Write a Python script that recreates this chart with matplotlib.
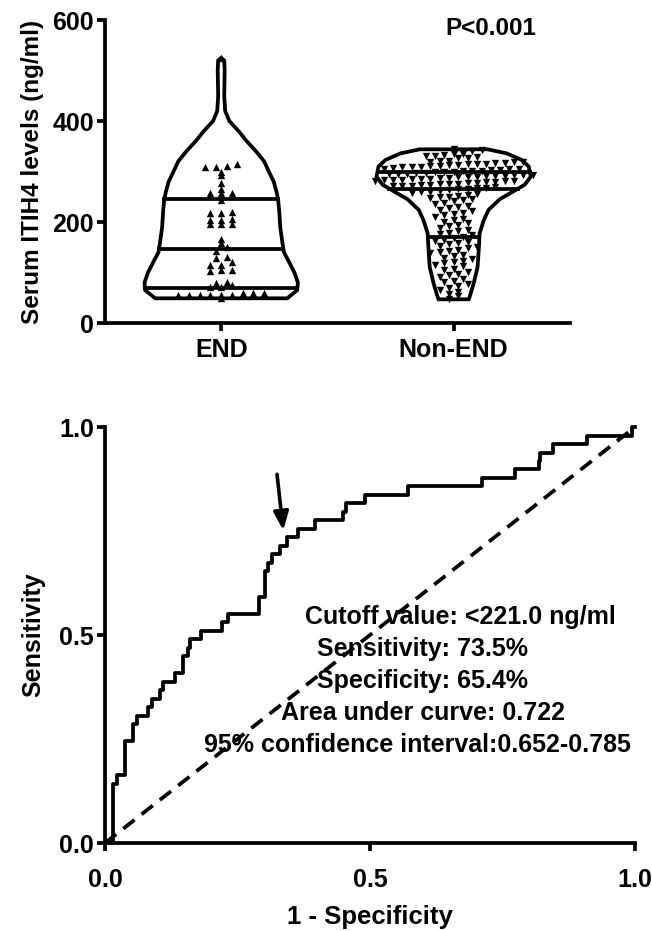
import numpy as np
import matplotlib
matplotlib.use("Agg")
import matplotlib.pyplot as plt

plt.rcParams['font.family'] = ['Liberation Sans', 'DejaVu Sans']
plt.rcParams['font.weight'] = 'bold'

# ---- violin data (ng/ml) ----
groups = ["END", "Non-END"]
end_vals = [525, 315, 310, 308, 308, 300, 294, 277, 265, 257, 257, 257, 244,
            220, 217, 217, 207, 204, 204, 197, 197, 197, 166, 159, 150, 143,
            131, 128, 121, 115, 115, 105, 105, 104, 82, 79, 75, 71, 71,
            60, 60, 60, 55, 55, 55, 55, 55, 55, 49]
non_vals = [345, 342, 340,
            335, 334, 332, 331, 330, 328, 327, 326,
            320, 320, 319, 318, 318, 317, 316, 315, 314, 314, 313, 312, 311, 310,
            309, 308, 308, 307, 306, 305, 305, 304, 303, 302, 302, 301, 300, 300,
            299, 298, 297, 296, 296, 295, 294, 294, 293, 292, 292, 291, 290, 290,
            289, 288, 287, 286, 286, 285, 284, 283, 283, 282, 281, 281, 280,
            279, 278, 277, 276, 275, 275, 274, 273, 272, 272, 271, 270,
            268, 267, 266, 265, 263, 262, 260, 259, 258, 256,
            254, 252, 250, 249, 247, 245, 243, 241,
            238, 235, 232, 230, 227, 224, 221,
            218, 216, 213, 210, 207, 204, 201,
            198, 195, 192, 188, 185, 182,
            178, 176, 174, 171, 168, 165, 163, 161,
            158, 156, 153, 150, 148, 145, 143, 141,
            138, 135, 132, 129, 126, 123, 121,
            118, 115, 112, 108, 105, 102,
            98, 95, 92, 88, 84, 81,
            78, 74, 70, 66, 62,
            58, 53, 48]

# violin outline: level and half width (x units)
end_lvl = [525, 520, 500, 450, 420, 400, 380, 360, 340, 320, 300, 280, 260,
           244, 220, 190, 160, 140, 120, 100, 80, 65, 55, 49]
end_hw = [0.0, 0.013, 0.015, 0.013, 0.017, 0.035, 0.075, 0.11, 0.15, 0.185,
          0.205, 0.226, 0.238, 0.245, 0.25, 0.254, 0.263, 0.27, 0.293, 0.315,
          0.33, 0.327, 0.30, 0.284]
non_lvl = [344, 336, 323, 310, 290, 274, 261, 245, 224, 204, 178, 145, 111, 78, 52, 47]
non_hw = [0.146, 0.228, 0.293, 0.323, 0.332, 0.306, 0.258, 0.198, 0.15, 0.13,
          0.112, 0.108, 0.103, 0.086, 0.069, 0.065]

# quartile lines (Q1, median, Q3)
end_quart = [69, 146, 246]
non_quart = [170, 266, 300]

# ---- ROC corners ----
roc_fpr = [0, 0.016, 0.016, 0.022, 0.022, 0.038, 0.038, 0.053, 0.053, 0.060, 0.060,
           0.082, 0.082, 0.088, 0.088, 0.104, 0.104, 0.110, 0.110, 0.132, 0.132,
           0.148, 0.148, 0.157, 0.157, 0.160, 0.160, 0.182, 0.182, 0.220, 0.220,
           0.233, 0.233, 0.291, 0.291, 0.302, 0.302, 0.308, 0.308, 0.315, 0.315,
           0.330, 0.330, 0.344, 0.344, 0.365, 0.365, 0.396, 0.396, 0.450, 0.450,
           0.455, 0.455, 0.491, 0.491, 0.572, 0.572, 0.711, 0.711, 0.774, 0.774,
           0.818, 0.818, 0.821, 0.821, 0.846, 0.846, 0.909, 0.909, 0.995, 0.995, 1.0]
roc_k = [0, 0, 7, 7, 8, 8, 12, 12, 14, 14, 15,
         15, 16, 16, 17, 17, 18, 18, 19, 19, 20,
         20, 22, 22, 23, 23, 24, 24, 25, 25, 26,
         26, 27, 27, 29, 29, 32, 32, 33, 33, 34,
         34, 35, 35, 36, 36, 37, 37, 38, 38, 39,
         39, 40, 40, 41, 41, 42, 42, 43, 43, 44,
         44, 45, 45, 46, 46, 47, 47, 48, 48, 49, 49]
n_end = 49
roc_tpr = [k / n_end for k in roc_k]

notes = ["Cutoff value: <221.0 ng/ml", "Sensitivity: 73.5%", "Specificity: 65.4%",
         "Area under curve: 0.722", "95% confidence interval:0.652-0.785"]

LW = 2.7
FS = 18


def swarm(vals, center, binh, dx):
    vals = np.sort(np.asarray(vals, float))
    bins = np.round(vals / binh)
    xs = np.zeros_like(vals)
    for b in np.unique(bins):
        idx = np.where(bins == b)[0]
        n = len(idx)
        xs[idx] = center + (np.arange(n) - (n - 1) / 2) * dx
    return xs, vals


def style(ax):
    for s in ['top', 'right']:
        ax.spines[s].set_visible(False)
    for s in ['left', 'bottom']:
        ax.spines[s].set_linewidth(LW)
    ax.tick_params(direction='out', length=6, width=LW, labelsize=FS, pad=2)
    for lab in ax.get_xticklabels() + ax.get_yticklabels():
        lab.set_fontweight('bold')


fig = plt.figure(figsize=(6.52, 9.31), dpi=100)

# ---- violin panel ----
ax1 = fig.add_axes([0.161, 0.653, 0.713, 0.3255])
for i, (lvl, hw, q, vals, mk, bh, dx) in enumerate([
        (end_lvl, end_hw, end_quart, end_vals, '^', 12, 0.046),
        (non_lvl, non_hw, non_quart, non_vals, 'v', 12, 0.04)]):
    lvl = np.array(lvl, float)
    hw = np.array(hw, float)
    xs = np.concatenate([i - hw, (i + hw)[::-1]])
    ys = np.concatenate([lvl, lvl[::-1]])
    ax1.fill(xs, ys, facecolor='white', edgecolor='black', lw=LW, zorder=2)
    for qv in q:
        w = np.interp(qv, lvl[::-1], hw[::-1])
        ax1.plot([i - w, i + w], [qv, qv], color='black', lw=LW, zorder=3)
    px, py = swarm(vals, i, bh, dx)
    ax1.scatter(px, py, marker=mk, s=28, color='black', linewidths=0, zorder=4)

ax1.set_xlim(-0.5, 1.5)
ax1.set_ylim(0, 600)
ax1.set_yticks([0, 200, 400, 600])
ax1.set_xticks([0, 1])
ax1.set_xticklabels(groups)
ax1.set_ylabel("Serum ITIH4 levels (ng/ml)", fontsize=17.5, fontweight='bold', labelpad=6)
style(ax1)
ax1.tick_params(axis='x', pad=5)
ax1.text(1.16, 584, "P<0.001", ha='center', va='center', fontsize=17.5, fontweight='bold')

# ---- ROC panel ----
ax2 = fig.add_axes([0.161, 0.0945, 0.8129, 0.4468])
ax2.plot(roc_fpr, roc_tpr, color='black', lw=LW, clip_on=False, zorder=3)
ax2.plot([0, 1], [0, 1], color='black', lw=LW, ls=(0, (3.8, 2.4)), clip_on=False)
ax2.annotate("", xy=(0.337, 0.745), xytext=(0.324, 0.893),
             arrowprops=dict(arrowstyle='-|>,head_length=1.1,head_width=0.45',
                             color='black', lw=2.6))
ax2.set_xlim(0, 1)
ax2.set_ylim(0, 1)
ax2.set_xticks([0, 0.5, 1.0])
ax2.set_yticks([0, 0.5, 1.0])
ax2.set_xticklabels(["0.0", "0.5", "1.0"])
ax2.set_yticklabels(["0.0", "0.5", "1.0"])
style(ax2)
ax2.tick_params(axis='x', pad=12)
ax2.set_ylabel("Sensitivity", fontsize=18, fontweight='bold', labelpad=10)
fig.text(0.161 + 0.8129 / 2, 0.0075, "1 - Specificity", ha='center', va='baseline',
         fontsize=18.5, fontweight='bold')

note_x = [0.670, 0.60, 0.60, 0.60, 0.59]
note_y = [0.543, 0.466, 0.389, 0.312, 0.236]
for t, x, y in zip(notes, note_x, note_y):
    ax2.text(x, y, t, ha='center', va='center', fontsize=18, fontweight='bold')

fig.savefig("out.png", dpi=100)
